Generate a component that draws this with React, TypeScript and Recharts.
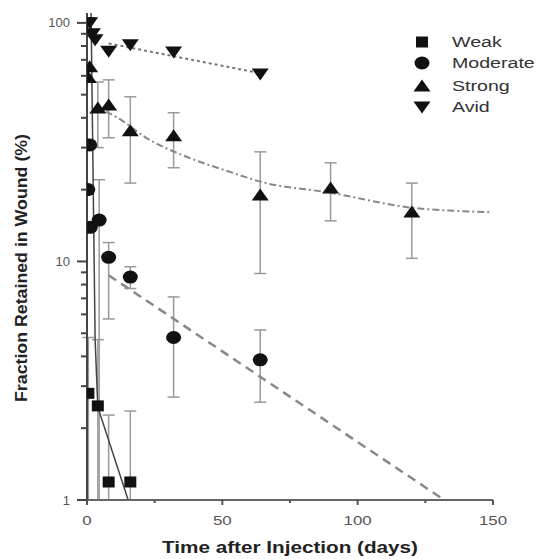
import React from 'react';
import { ComposedChart, Scatter, XAxis, YAxis, ErrorBar, Label } from 'recharts';

// ---- data ----
const weakDays = [0.5, 4, 8, 16];
const weakValues = [2.8, 2.48, 1.19, 1.19];
const weakLow = [1, 1, 1, 1];
const weakHigh = [4.8, 4.7, 2.27, 2.36];

const moderateDays = [0.3, 1, 1.2, 4.5, 8, 16, 32, 64];
const moderateValues = [20, 30.8, 13.9, 14.9, 10.4, 8.6, 4.8, 3.87];
const moderateLow = [null, null, null, 1, 5.74, 7.7, 2.7, 2.57];
const moderateHigh = [null, null, null, 22, 12, 9.5, 7.1, 5.16];

const strongDays = [0.5, 1, 4, 8, 16, 32, 64, 90, 120];
const strongValues = [59, 65.4, 44, 45.3, 35.3, 33.6, 19.0, 20.3, 16.1];
const strongLow = [null, null, 30, 33, 21.3, 24.7, 8.9, 14.8, 10.3];
const strongHigh = [null, null, 56.5, 57.7, 49, 42, 28.8, 25.9, 21.3];

const avidDays = [0, 1, 2, 3, 8, 16, 32, 64];
const avidValues = [100, 100, 90, 85, 76, 81, 75.5, 61];

// fitted curves, read as points off the picture
const weakFitDays = [1.5, 3, 4, 15.2];
const weakFitValues = [110, 4.7, 2.45, 1];
const moderateFitDays = [8, 132];
const moderateFitValues = [8.75, 1.0];
const strongFitDays = [7, 11, 23, 37, 54, 64, 90, 120, 149];
const strongFitValues = [42.5, 40.2, 32.4, 27.4, 23.5, 21.6, 19.4, 16.8, 16.1];
const avidFitDays = [8, 64];
const avidFitValues = [82, 61.5];

const seriesNames = ['Weak', 'Moderate', 'Strong', 'Avid'];
const yTicks = [1, 2, 3, 4, 5, 6, 7, 8, 9, 10, 20, 30, 40, 50, 60, 70, 80, 90, 100];
const yMajor = [1, 10, 100];
const xTicks = [0, 25, 50, 75, 100, 125, 150];
const xMajor = [0, 50, 100, 150];

const build = (days: number[], vals: number[], lo?: (number | null)[], hi?: (number | null)[]) =>
  days.map((t, i) => ({
    t,
    v: vals[i],
    err: lo && hi && lo[i] != null && hi[i] != null ? [vals[i] - (lo[i] as number), (hi[i] as number) - vals[i]] : null,
  }));

const weakPts = build(weakDays, weakValues, weakLow, weakHigh);
const moderatePts = build(moderateDays, moderateValues, moderateLow, moderateHigh);
const strongPts = build(strongDays, strongValues, strongLow, strongHigh);
const avidPts = build(avidDays, avidValues);
const weakFit = build(weakFitDays, weakFitValues);
const moderateFit = build(moderateFitDays, moderateFitValues);
const strongFit = build(strongFitDays, strongFitValues);
const avidFit = build(avidFitDays, avidFitValues);

const FONT = '"Liberation Sans", Arial, Helvetica, sans-serif';
const INK = '#111';

const Square = (p: any) => <rect x={p.cx - 6} y={p.cy - 5.5} width={12} height={11} fill={INK} />;
const Circle = (p: any) => <ellipse cx={p.cx} cy={p.cy} rx={7.5} ry={6.5} fill={INK} />;
const TriUp = (p: any) => (
  <path d={`M${p.cx - 8.5},${p.cy + 5.5} L${p.cx + 8.5},${p.cy + 5.5} L${p.cx},${p.cy - 6.5} Z`} fill={INK} />
);
const TriDown = (p: any) => (
  <path d={`M${p.cx - 8.5},${p.cy - 5.5} L${p.cx + 8.5},${p.cy - 5.5} L${p.cx},${p.cy + 6.5} Z`} fill={INK} />
);
const NoDot = () => <g />;

const YTick = (props: any) => {
  const { x, y, payload } = props;
  const major = yMajor.includes(payload.value);
  return (
    <g>
      <line x1={x - (major ? 10 : 6)} x2={x} y1={y} y2={y} stroke="#444" strokeWidth={2} />
      {major && (
        <text x={x - 17} y={y + 4.5} textAnchor="end" fontSize={13} fontFamily={FONT} fill="#555">
          {payload.value}
        </text>
      )}
    </g>
  );
};

const XTick = (props: any) => {
  const { x, y, payload } = props;
  const major = xMajor.includes(payload.value);
  return (
    <g>
      <line x1={x} x2={x} y1={y} y2={y + (major ? 5 : 3)} stroke="#555" strokeWidth={2} />
      {major && (
        <text
          transform={`translate(${x},${y + 25}) scale(1.3,1)`}
          textAnchor="middle"
          fontSize={13}
          fontFamily={FONT}
          fill="#555"
        >
          {payload.value}
        </text>
      )}
    </g>
  );
};

const errProps = { dataKey: 'err', direction: 'y' as const, width: 6, stroke: '#999', strokeWidth: 1.5 };

const legendShapes = [Square, Circle, TriUp, TriDown];
const legendRows = [42, 63, 86, 107];

export default function App() {
  return (
    <div style={{ position: 'absolute', left: 0, top: 0, width: 537, height: 559, background: '#fff', overflow: 'hidden' }}>
      <ComposedChart width={537} height={559} margin={{ top: 13, right: 44, bottom: 0, left: 0 }}>
        <XAxis
          dataKey="t"
          type="number"
          domain={[0, 150]}
          ticks={xTicks}
          interval={0}
          allowDataOverflow
          tickSize={0}
          tickMargin={0}
          tick={<XTick />}
          tickLine={false}
          axisLine={{ stroke: '#666', strokeWidth: 2 }}
          height={59}
        >
          <Label
            content={() => (
              <text
                x={290}
                y={553}
                textAnchor="middle"
                fontSize={16}
                fontWeight="bold"
                fontFamily={FONT}
                fill="#222"
                textLength={256}
                lengthAdjust="spacingAndGlyphs"
              >
                Time after Injection (days)
              </text>
            )}
          />
        </XAxis>
        <YAxis
          dataKey="v"
          type="number"
          scale="log"
          domain={[1, 110]}
          allowDataOverflow
          ticks={yTicks}
          interval={0}
          tickSize={0}
          tickMargin={0}
          tick={<YTick />}
          tickLine={false}
          axisLine={{ stroke: '#444', strokeWidth: 2 }}
          width={87}
        >
          <Label
            content={() => (
              <text
                transform="translate(27,268) rotate(-90)"
                textAnchor="middle"
                fontSize={17}
                fontWeight="bold"
                fontFamily={FONT}
                fill="#222"
                textLength={268}
                lengthAdjust="spacingAndGlyphs"
              >
                Fraction Retained in Wound (%)
              </text>
            )}
          />
        </YAxis>

        <Scatter data={avidFit} shape={NoDot} line={{ stroke: '#777', strokeWidth: 2, strokeDasharray: '3 3' }} isAnimationActive={false} />
        <Scatter data={strongFit} shape={NoDot} lineJointType="monotoneX" line={{ stroke: '#888', strokeWidth: 2, strokeDasharray: '7 3 2 3' }} isAnimationActive={false} />
        <Scatter data={moderateFit} shape={NoDot} line={{ stroke: '#888', strokeWidth: 2.5, strokeDasharray: '9 6' }} isAnimationActive={false} />
        <Scatter data={weakFit} shape={NoDot} line={{ stroke: '#444', strokeWidth: 1.5 }} isAnimationActive={false} />

        <Scatter name={seriesNames[0]} data={weakPts} shape={Square} isAnimationActive={false}>
          <ErrorBar {...errProps} />
        </Scatter>
        <Scatter name={seriesNames[1]} data={moderatePts} shape={Circle} isAnimationActive={false}>
          <ErrorBar {...errProps} />
        </Scatter>
        <Scatter name={seriesNames[2]} data={strongPts} shape={TriUp} isAnimationActive={false}>
          <ErrorBar {...errProps} />
        </Scatter>
        <Scatter name={seriesNames[3]} data={avidPts} shape={TriDown} isAnimationActive={false} />
      </ComposedChart>

      <svg width={537} height={559} style={{ position: 'absolute', left: 0, top: 0, pointerEvents: 'none' }}>
        {seriesNames.map((name, i) => {
          const Shape = legendShapes[i];
          const cy = legendRows[i];
          return (
            <g key={name}>
              <Shape cx={422} cy={cy} />
              <text
                transform={`translate(452,${cy + 5}) scale(1.4,1)`}
                fontSize={14}
                fontFamily={FONT}
                fill="#333"
              >
                {name}
              </text>
            </g>
          );
        })}
      </svg>
    </div>
  );
}
